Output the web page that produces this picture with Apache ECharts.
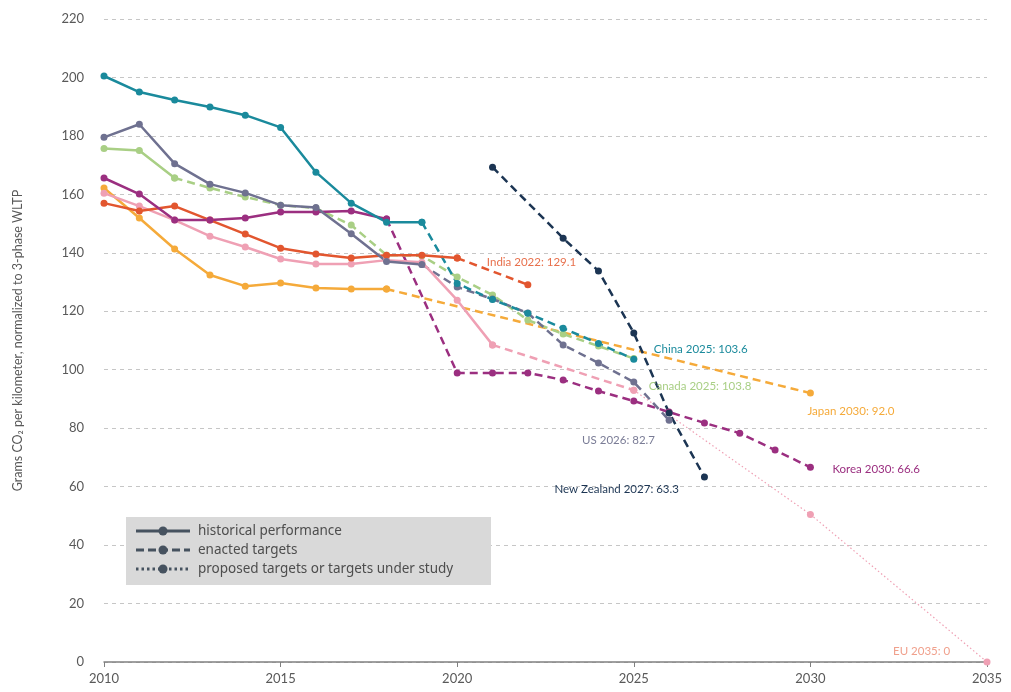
<!DOCTYPE html>
<html>
<head>
<meta charset="utf-8">
<title>CO2 per km targets</title>
<script src="https://cdn.jsdelivr.net/npm/echarts@6/dist/echarts.min.js"></script>
<style>
  html, body { margin: 0; padding: 0; background: #fff; }
  #main { width: 1011px; height: 692px; }
</style>
</head>
<body>
<div id="main"></div>
<script>
// 数据：每段从 start 年开始逐年取值，null 表示该年没有点
var yearMin = 2010, yearMax = 2035;

var chinaHist    = [200.5, 195.0, 192.3, 189.9, 187.1, 182.9, 167.6, 157.0, 150.5, 150.5]; // 2010-2019
var chinaEnacted = [150.5, 129.5, 124.0, 119.3, 114.2, 109.0, 103.6];                      // 2019-2025

var usHist    = [179.5, 184.0, 170.5, 163.5, 160.5, 156.3, 155.5, 146.5, 137.0, 136.0];    // 2010-2019
var usEnacted = [136.0, 128.3, 124.2, 119.4, 108.5, 102.3, 95.8, 82.7];                    // 2019-2026

var canadaHist    = [175.7, 175.0, 165.6];                                                 // 2010-2012
var canadaEnacted = [165.6, 162.2, 159.1, 156.3, 155.3, 149.5, 139.2, 139.0, 131.7, 125.6,
                     117.0, 112.2, 108.1, 103.8];                                          // 2012-2025

var koreaHist    = [165.6, 160.1, 151.2, 151.2, 151.9, 154.0, 154.0, 154.3, 151.6];        // 2010-2018
var koreaEnacted = [151.6, null, 98.9, 98.9, 98.9, 96.5, 92.7, 89.3, 85.5, 81.8, 78.3,
                    72.5, 66.6];                                                           // 2018-2030

var indiaHist    = [157.0, 154.3, 156.0, 151.2, 146.4, 141.6, 139.6, 138.2, 139.2, 139.2, 138.2]; // 2010-2020
var indiaEnacted = [138.2, null, 129.1];                                                   // 2020-2022

var japanHist    = [162.2, 151.9, 141.3, 132.4, 128.6, 129.7, 128.0, 127.6, 127.6];        // 2010-2018
var japanEnacted = [127.6, null, null, null, null, null, null, null, null, null, null,
                    null, 92.0];                                                           // 2018-2030

var euHist     = [160.4, 156.0, 151.2, 145.7, 142.0, 137.9, 136.2, 136.2, 137.5, 136.8,
                  123.8, 108.5];                                                           // 2010-2021
var euEnacted  = [108.5, null, null, null, 93.0];                                          // 2021-2025
var euProposed = [93.0, null, null, null, null, 50.5, null, null, null, null, 0];          // 2025-2035

var nzEnacted = [169.3, null, 145.0, 133.8, 112.6, 85.2, 63.3];                            // 2021-2027

var legendItems = ['historical performance', 'enacted targets', 'proposed targets or targets under study'];

// 颜色
var C = {
  china: '#1a8a9c', us: '#6f7190', canada: '#a9cf85', korea: '#9b2f80',
  india: '#e2562f', japan: '#f5aa3a', eu: '#efa0b4', nz: '#1c3553'
};

function pairs(start, values) {
  var out = [];
  values.forEach(function (v, i) { if (v !== null) out.push([start + i, v]); });
  return out;
}

function seg(start, values, color, kind, label) {
  var data = pairs(start, values);
  if (label) {
    var last = data[data.length - 1];
    data[data.length - 1] = {
      value: last,
      label: {
        show: true, formatter: label.text, color: label.color || color,
        position: [label.dx + 3.5, label.dy + 3.5], align: 'left', verticalAlign: 'middle',
        fontFamily: 'Lato', fontSize: 11.5
      }
    };
  }
  var ls = { color: color, width: 2.5, type: 'solid' };
  var size = 7;
  if (kind === 'dash') ls.type = [8, 5];
  if (kind === 'dot') { ls.type = [1.5, 2.5]; ls.width = 1.2; }
  return {
    type: 'line', data: data, symbol: 'circle', symbolSize: size, showAllSymbol: true,
    lineStyle: ls, itemStyle: { color: color }, z: kind === 'solid' ? 3 : 2,
    label: { show: false }, emphasis: { disabled: true }
  };
}

var series = [
  seg(2025, euProposed, C.eu, 'dot', { text: 'EU 2035: 0', color: '#f0a08c', dx: -94, dy: -11 }),
  seg(2010, japanHist, C.japan, 'solid'),
  seg(2018, japanEnacted, C.japan, 'dash', { text: 'Japan 2030: 92.0', dx: -3, dy: 18 }),
  seg(2010, euHist, C.eu, 'solid'),
  seg(2021, euEnacted, C.eu, 'dash'),
  seg(2010, indiaHist, C.india, 'solid'),
  seg(2020, indiaEnacted, C.india, 'dash', { text: 'India 2022: 129.1', color: '#e8704c', dx: -41, dy: -22 }),
  seg(2010, koreaHist, C.korea, 'solid'),
  seg(2018, koreaEnacted, C.korea, 'dash', { text: 'Korea 2030: 66.6', dx: 22, dy: 2 }),
  seg(2010, canadaHist, C.canada, 'solid'),
  seg(2012, canadaEnacted, C.canada, 'dash', { text: 'Canada 2025: 103.8', dx: 15, dy: 28 }),
  seg(2010, usHist, C.us, 'solid'),
  seg(2019, usEnacted, C.us, 'dash', { text: 'US 2026: 82.7', color: '#7a7c96', dx: -87, dy: 20 }),
  seg(2010, chinaHist, C.china, 'solid'),
  seg(2019, chinaEnacted, C.china, 'dash', { text: 'China 2025: 103.6', dx: 20, dy: -10 }),
  seg(2021, nzEnacted, C.nz, 'dash', { text: 'New Zealand 2027: 63.3', dx: -150, dy: 12 })
];

// 图例（手工画的灰色框）
var legX = 126, legY = 517, legLine = '#46525f';
var legendGraphic = [{
  type: 'rect', shape: { x: legX, y: legY, width: 365, height: 68 },
  style: { fill: '#d9d9d9' }, z: 10
}];
legendItems.forEach(function (txt, i) {
  var y = legY + 14 + i * 19;
  var dash = i === 0 ? null : (i === 1 ? [8, 4] : [2.5, 3]);
  legendGraphic.push({
    type: 'line', shape: { x1: legX + 10, y1: y, x2: legX + 64, y2: y },
    style: { stroke: legLine, lineWidth: 3, lineDash: dash }, z: 11
  });
  legendGraphic.push({
    type: 'circle', shape: { cx: legX + 37, cy: y, r: 4.5 },
    style: { fill: legLine }, z: 12
  });
  legendGraphic.push({
    type: 'text', x: legX + 72, y: y,
    style: { text: txt, fill: '#4d4d4d', font: '13.5px "Noto Sans"', textVerticalAlign: 'middle' }, z: 12
  });
});

var myChart = echarts.init(document.getElementById('main'));
myChart.setOption({
  animation: false,
  backgroundColor: '#fff',
  grid: { left: 104, right: 24, top: 19, bottom: 30 },
  xAxis: {
    type: 'value', min: yearMin, max: yearMax, interval: 5,
    axisLine: { lineStyle: { color: '#808080', width: 1.5 } },
    axisTick: { show: true, length: 5, lineStyle: { color: '#808080' } },
    axisLabel: { color: '#595959', fontFamily: 'Lato', fontSize: 13, margin: 10,
      formatter: function (v) { return String(v); } },
    splitLine: { show: false }
  },
  yAxis: {
    type: 'value', min: 0, max: 220, interval: 20,
    name: 'Grams CO\u2082 per kilometer, normalized to 3-phase WLTP',
    nameLocation: 'middle', nameGap: 80,
    nameTextStyle: { color: '#595959', fontFamily: 'Lato', fontSize: 12.5 },
    axisLine: { show: false }, axisTick: { show: false },
    axisLabel: { color: '#595959', fontFamily: 'Lato', fontSize: 13, margin: 20 },
    splitLine: { lineStyle: { color: '#c6c6c6', type: [4, 4], width: 1 } }
  },
  series: series,
  graphic: legendGraphic
});
</script>
</body>
</html>
